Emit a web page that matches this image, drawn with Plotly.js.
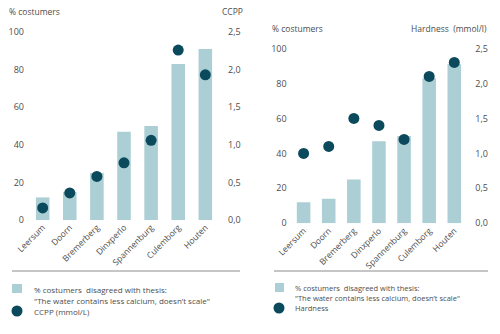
<!DOCTYPE html>
<html><head><meta charset="utf-8">
<script src="https://cdn.plot.ly/plotly-3.0.1.min.js"></script>
<style>html,body{margin:0;padding:0;background:#fff}#chart{width:500px;height:334px}</style>
</head><body><div id="chart"></div>
<script>
const towns = ['Leersum','Doorn','Bremerberg','Dinxperlo','Spannenburg','Culemborg','Houten'];
const pctLeft = [12,15,25,47,50,83,91];
const ccpp = [0.16,0.36,0.58,0.76,1.06,2.26,1.93];
const pctRight = [12,14,25,47,50,83,91];
const hardness = [1.0,1.1,1.5,1.4,1.2,2.1,2.3];
const pctTicks = [0,20,40,60,80,100];
const mmolTicks = [0,0.5,1,1.5,2,2.5];
const barName = '% costumers  disagreed with thesis:';
const barName2 = '"The water contains less calcium, doesn\u2019t scale"';

const W = 500, H = 334;
const px = x => x / W, py = y => 1 - y / H;
const BAR = '#abcfd5', DOT = '#0b4a5d', TXT = '#4d4d4d';
const FONT = 'Open Sans, sans-serif';

const data = [
  {type:'bar', x:towns, y:pctLeft, xaxis:'x', yaxis:'y', width:0.5, marker:{color:BAR}, name:barName, hoverinfo:'x+y'},
  {type:'scatter', mode:'markers', x:towns, y:ccpp, xaxis:'x', yaxis:'y2', marker:{color:DOT, size:11}, cliponaxis:false, name:'CCPP (mmol/L)'},
  {type:'bar', x:towns, y:pctRight, xaxis:'x2', yaxis:'y3', width:0.54, marker:{color:BAR}, name:barName, hoverinfo:'x+y'},
  {type:'scatter', mode:'markers', x:towns, y:hardness, xaxis:'x2', yaxis:'y4', marker:{color:DOT, size:11}, cliponaxis:false, name:'Hardness'}
];

const tf = {family:FONT, size:9, color:TXT};
const baseY = {showgrid:false, zeroline:false, showline:false, ticks:'', tickfont:tf, fixedrange:true};
const baseX = {showgrid:false, zeroline:false, showline:false, ticks:'', tickangle:-45, tickfont:{family:FONT, size:8.5, color:TXT}, fixedrange:true, type:'category'};

const layout = {
  width:W, height:H, margin:{l:0,r:0,t:0,b:0}, showlegend:false,
  paper_bgcolor:'#fff', plot_bgcolor:'#fff', separators:',.',
  font:{family:FONT, color:TXT},
  xaxis: Object.assign({}, baseX, {domain:[px(26), px(222)], anchor:'y'}),
  yaxis: Object.assign({}, baseY, {domain:[py(220), py(32)], range:[0,100], tickvals:pctTicks, anchor:'x', ticklabelstandoff:1}),
  yaxis2: Object.assign({}, baseY, {domain:[py(220), py(32)], range:[0,2.5], tickvals:mmolTicks, tickformat:'.1f', overlaying:'y', side:'right', anchor:'x', ticklabelstandoff:5}),
  xaxis2: Object.assign({}, baseX, {domain:[px(287.6), px(470.3)], anchor:'y3'}),
  yaxis3: Object.assign({}, baseY, {domain:[py(223.3), py(48.5)], range:[0,100], tickvals:pctTicks, anchor:'x2', ticklabelstandoff:0}),
  yaxis4: Object.assign({}, baseY, {domain:[py(223.3), py(48.5)], range:[0,2.5], tickvals:mmolTicks, tickformat:'.1f', overlaying:'y3', side:'right', anchor:'x2', ticklabelstandoff:4}),
  shapes: [
    {type:'line', xref:'paper', yref:'paper', x0:px(12), x1:px(240), y0:py(271), y1:py(271), line:{color:'#8c8c8c', width:1}},
    {type:'line', xref:'paper', yref:'paper', x0:px(274), x1:px(488), y0:py(271), y1:py(271), line:{color:'#8c8c8c', width:1}},
    {type:'rect', xref:'paper', yref:'paper', x0:px(12), x1:px(22), y0:py(293), y1:py(284), fillcolor:BAR, line:{width:0}},
    {type:'circle', xref:'paper', yref:'paper', x0:px(11.5), x1:px(22.5), y0:py(316.5), y1:py(305.5), fillcolor:DOT, line:{width:0}},
    {type:'rect', xref:'paper', yref:'paper', x0:px(275), x1:px(284), y0:py(292), y1:py(283), fillcolor:BAR, line:{width:0}},
    {type:'circle', xref:'paper', yref:'paper', x0:px(273.5), x1:px(284.5), y0:py(313.5), y1:py(302.5), fillcolor:DOT, line:{width:0}}
  ],
  annotations: []
};

function ann(text, x, y, xanchor, size) {
  layout.annotations.push({text:text, xref:'paper', yref:'paper', x:px(x), y:py(y), xanchor:xanchor||'left', yanchor:'middle', showarrow:false, font:{family:FONT, size:size||8.5, color:TXT}});
}
ann('% costumers', 7, 12);
ann('CCPP', 245, 12, 'right');
ann('% costumers', 270, 29);
ann('Hardness  (mmol/l)', 489, 29, 'right');
ann(barName, 32, 289, 'left', 8);
ann(barName2, 32, 300, 'left', 8);
ann('CCPP (mmol/L)', 32, 311, 'left', 8);
ann(barName, 293, 288, 'left', 7.5);
ann(barName2, 293, 298, 'left', 7.5);
ann('Hardness', 293, 308, 'left', 7.5);

Plotly.newPlot('chart', data, layout, {displayModeBar:false, staticPlot:true});
</script></body></html>
